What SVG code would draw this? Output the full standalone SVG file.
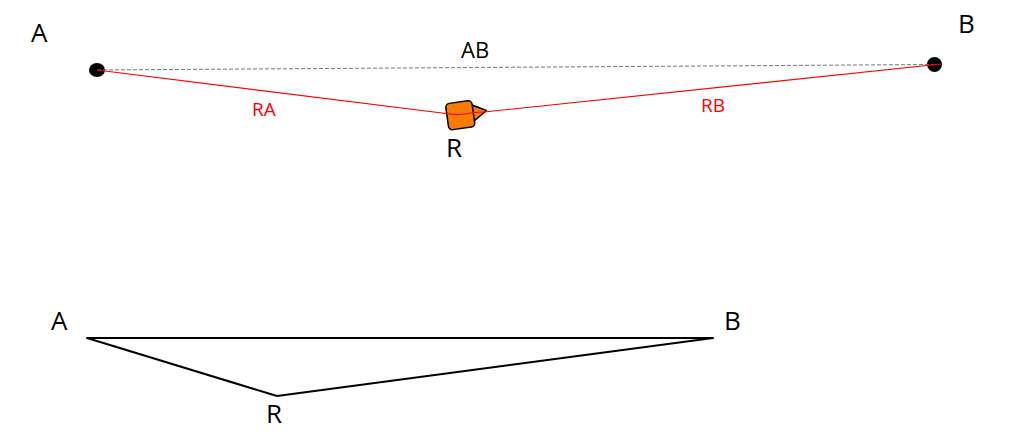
<svg xmlns="http://www.w3.org/2000/svg" width="1009" height="445" viewBox="0 0 1009 445">
<style>
text{font-family:"Open Sans","Liberation Sans",sans-serif;fill:#000}
.big{font-size:26px}
.mid{font-size:22px}
.red{font-size:19px;fill:#f00}
.tri{stroke:#000;stroke-width:2;fill:none}
.r{stroke:#f00;stroke-width:1.2;fill:none}
</style>
<rect width="1009" height="445" fill="#fff"/>
<g id="node-A"><ellipse cx="97" cy="70" rx="8" ry="7"/><text class="big" x="31" y="42">A</text></g>
<g id="node-B"><circle cx="934.500" cy="64.500" r="7.500"/><text class="big" x="958" y="33">B</text></g>
<g id="node-R">
<path d="M472 105L486.500 110.500L473 122Z" fill="#f97c00" stroke="#000" stroke-width="1.500" stroke-linejoin="round"/>
<rect x="447" y="102" width="26.500" height="26.500" rx="4" transform="rotate(-8 460 115)" fill="#f97c00" stroke="#000" stroke-width="1.500"/>
<text class="big" x="446" y="157">R</text></g>
<g id="connectors">
<path d="M97 70L934 64.500" stroke="#777" stroke-width="1" stroke-dasharray="4 2" fill="none"/>
<path class="r" d="M97 70L446 113.500Q459 116 474 112.500L484 112L941 64"/>
<path class="tri" d="M87 338H713L277 396Z" stroke-linejoin="round"/>
</g>
<g id="labels">
<text class="mid" x="461" y="58">AB</text>
<text class="red" x="252" y="116">RA</text>
<text class="red" x="701" y="112">RB</text>
</g>
<g id="triangle-labels">
<text class="big" x="51" y="330">A</text>
<text class="big" x="724" y="330">B</text>
<text class="big" x="266" y="423">R</text>
</g>
</svg>
